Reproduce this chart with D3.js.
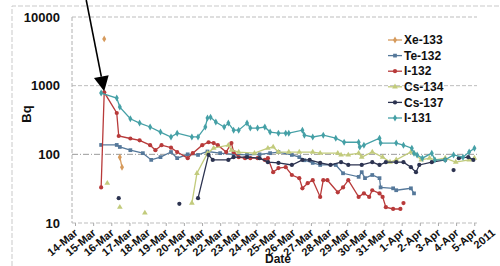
<!DOCTYPE html>
<html><head><meta charset="utf-8">
<script src="https://cdn.jsdelivr.net/npm/d3@7"></script>
<style>
html,body{margin:0;padding:0;background:#fff;}
svg text{font-family:"Liberation Sans",Arial,sans-serif;font-weight:bold;fill:#111;}
</style></head>
<body><svg id="c" width="500" height="266"></svg>
<script>
// ---- data (day = day of March 2011, values >31 are April) ----
const seriesNames = ["Xe-133","Te-132","I-132","Cs-134","Cs-137","I-131"];
const seriesColors = ["#d69a5c","#55789a","#b83a3a","#c2cb7c","#2c3350","#45a0a6"];
const xe133 = [[15.61,4800],[15.9,null],[16.47,91],[16.59,65]];
const te132 = [[15.44,137],[16.30,137],[16.47,128],[17.05,115],[17.74,104],[18.20,83],[18.71,91],[19.29,108],[19.63,88],[20.21,100],[20.78,98],[21.30,110],[22.0,104],[22.74,100],[23.48,98],[24.17,100],[24.75,104],[25.21,108],[25.95,98],[26.36,91],[26.64,82],[27.10,75],[27.51,70],[28.37,70],[28.77,53],[29.63,47],[29.80,55],[29.98,45],[30.38,50],[30.78,45],[30.84,33],[31.53,32],[31.70,30],[32.51,32],[32.68,27]];
const i132 = [[15.44,33],[15.61,800],[16.30,400],[16.41,185],[17.05,170],[17.56,160],[18.14,136],[18.43,115],[18.77,136],[19.29,125],[19.63,108],[20.21,88],[20.49,104],[21.01,136],[21.36,150],[21.64,146],[21.87,136],[22.33,108],[22.62,146],[22.74,108],[23.02,91],[23.37,88],[23.66,88],[24.06,88],[24.46,83],[24.63,88],[24.92,55],[25.21,63],[25.61,65],[25.95,50],[26.36,45],[26.53,32],[26.82,38],[27.10,42],[27.51,24],[27.68,42],[27.91,42],[28.48,28],[28.77,33],[29.06,42],[29.63,24],[29.92,27],[30.21,24],[30.38,30],[30.78,27],[30.95,24],[31.13,17],[31.53,16],[31.93,16],[32.0,null],[32.10,19.5]];
const cs134 = [[15.78,38],[16.0,null],[16.47,17],[17.0,null],[17.85,14],[18.5,null],[20.44,19.5],[20.72,53],[21.30,104],[21.64,123],[22.45,136],[22.62,115],[23.02,108],[23.89,104],[24.63,123],[24.92,128],[25.21,108],[25.78,108],[26.36,108],[27.10,108],[27.51,104],[28.48,104],[28.66,98],[29.06,98],[29.63,104],[29.80,91],[30.38,108],[30.95,91],[31.36,77],[31.70,83],[32.51,108],[32.68,104],[33.08,83],[33.54,88],[33.83,83],[34.40,88],[34.98,77],[35.72,83],[36.01,88]];
const cs137 = [[16.41,23],[17.0,null],[19.75,19],[20.2,null],[20.78,23],[21.36,98],[21.59,83],[22.45,83],[22.74,91],[23.48,91],[24.17,88],[24.63,77],[25.21,75],[25.95,70],[26.53,83],[26.93,83],[27.51,75],[28.08,70],[28.66,77],[29.06,70],[29.80,70],[30.38,77],[30.78,70],[31.13,77],[31.70,77],[32.10,77],[32.51,65],[32.79,55],[32.97,70],[33.66,77],[34.40,83],[34.6,null],[34.86,59],[35.0,null],[35.15,88],[35.67,91],[35.95,83]];
const i131 = [[15.44,780],[16.30,660],[16.47,488],[17.05,330],[17.56,285],[18.14,250],[18.71,211],[19.29,179],[19.63,203],[20.44,179],[20.78,179],[21.18,250],[21.30,337],[21.47,348],[21.76,295],[22.22,250],[22.45,285],[22.74,225],[23.02,225],[23.48,285],[23.66,241],[24.06,241],[24.46,250],[24.75,211],[25.21,203],[25.61,203],[25.78,203],[26.53,225],[26.64,190],[27.10,179],[27.68,190],[28.37,172],[28.83,150],[29.63,150],[29.69,128],[29.92,136],[30.78,172],[30.84,146],[31.70,146],[32.10,136],[32.56,123],[32.68,104],[32.85,98],[33.14,88],[33.66,104],[33.83,83],[34.40,83],[34.86,98],[35.38,91],[35.72,108],[36.01,123]];
const allSeries = [xe133, te132, i132, cs134, cs137, i131];
const yTicks = [10,100,1000,10000];
const xTickDays = d3.range(14, 38); // 14-Mar .. 7-Apr
const yLabel = "Bq", xLabel = "Date";

// ---- helpers ----
const base = new Date(2011,2,1);
const toDate = d => new Date(+base + (d-1)*864e5);

const svg = d3.select("#c");
const L=72, R=477, T=17, B=223;
const x = d3.scaleTime().domain([toDate(14), toDate(37)]).range([75, 475+17.4]);
const y = d3.scaleLog().domain([10,10000]).range([B, T]);

// chart border (scan-like)
svg.append("path").attr("d",`M12,266V6H500`).attr("fill","none")
  .attr("stroke","#c9c9c9").attr("stroke-width",1).attr("stroke-dasharray","5,2");

// gridlines
svg.append("g").selectAll("line").data(yTicks).join("line")
  .attr("x1",L).attr("x2",R).attr("y1",d=>y(d)).attr("y2",d=>y(d))
  .attr("stroke",d=>d===100?"#9a9a9a":"#bdbdbd").attr("stroke-width",1)
  .attr("stroke-dasharray",d=>d===100?"6,2,1,2":"4,2");
svg.append("line").attr("x1",L).attr("x2",L).attr("y1",T).attr("y2",B)
  .attr("stroke","#b0b0b0").attr("stroke-dasharray","4,2");

// y axis
const ya = svg.append("g").attr("transform",`translate(${L},0)`)
  .call(d3.axisLeft(y).tickValues(yTicks).tickFormat(d3.format("d")).tickSize(0).tickPadding(12));
ya.select(".domain").remove();
ya.selectAll("text").style("font-size","13px");

// x axis
const xa = svg.append("g").attr("transform",`translate(0,${B})`)
  .call(d3.axisBottom(x).tickValues(xTickDays.map(toDate))
    .tickFormat((d,i)=> i===xTickDays.length-1 ? "2011" : d3.timeFormat("%-d-%b")(d)).tickSize(3));
xa.select(".domain").remove();
xa.selectAll(".tick line").attr("stroke","#aaa").filter((d,i)=>i===xTickDays.length-1).remove();
xa.selectAll("text").attr("y",0).attr("dy",0)
  .attr("transform","translate(3,11) rotate(-40)")
  .style("text-anchor","end").style("font-size","11px");

// axis titles
svg.append("text").attr("transform","translate(31,114) rotate(-90)")
  .attr("text-anchor","middle").style("font-size","13px").text(yLabel);
svg.append("text").attr("x",278).attr("y",263).attr("text-anchor","middle")
  .style("font-size","12px").text(xLabel);

// series
const symbols = [d3.symbolDiamond, d3.symbolSquare, d3.symbolCircle, d3.symbolTriangle, d3.symbolCircle, d3.symbolDiamond];
const line = d3.line().defined(d=>d[1]!=null).x(d=>x(toDate(d[0]))).y(d=>y(d[1]));
allSeries.forEach((s,i)=>{
  const g = svg.append("g");
  g.append("path").attr("d",line(s)).attr("fill","none")
    .attr("stroke",seriesColors[i]).attr("stroke-width",1.3);
  g.selectAll("path.m").data(s.filter(d=>d[1]!=null)).join("path").attr("class","m")
    .attr("transform",d=>`translate(${x(toDate(d[0]))},${y(d[1])})`)
    .attr("d",d3.symbol(symbols[i],14)).attr("fill",seriesColors[i]);
});

// legend
const lg = svg.append("g");
seriesNames.forEach((n,i)=>{
  const yy = 40 + i*15.6;
  lg.append("line").attr("x1",388).attr("x2",402).attr("y1",yy).attr("y2",yy)
    .attr("stroke",seriesColors[i]).attr("stroke-width",1.3);
  lg.append("path").attr("transform",`translate(395,${yy})`)
    .attr("d",d3.symbol(symbols[i],14)).attr("fill",seriesColors[i]);
  lg.append("text").attr("x",404).attr("y",yy).attr("dy","0.35em")
    .style("font-size","12px").text(n);
});

// arrow annotation pointing at I-132 peak
const peak = i132[1];
const tip = [x(toDate(peak[0])), y(peak[1]) - 1];
const tail = [tip[0]-18, 0];
const ang = Math.atan2(tip[1]-tail[1], tip[0]-tail[0]);
const hl = 15, hw = 7.5;
const bx = tip[0]-hl*Math.cos(ang), by = tip[1]-hl*Math.sin(ang);
svg.append("line").attr("x1",tail[0]).attr("y1",tail[1]).attr("x2",bx).attr("y2",by)
  .attr("stroke","#000").attr("stroke-width",1.6);
svg.append("path").attr("d",`M${tip[0]},${tip[1]}L${bx+hw*Math.sin(ang)},${by-hw*Math.cos(ang)}L${bx-hw*Math.sin(ang)},${by+hw*Math.cos(ang)}Z`)
  .attr("fill","#000");
</script></body></html>
